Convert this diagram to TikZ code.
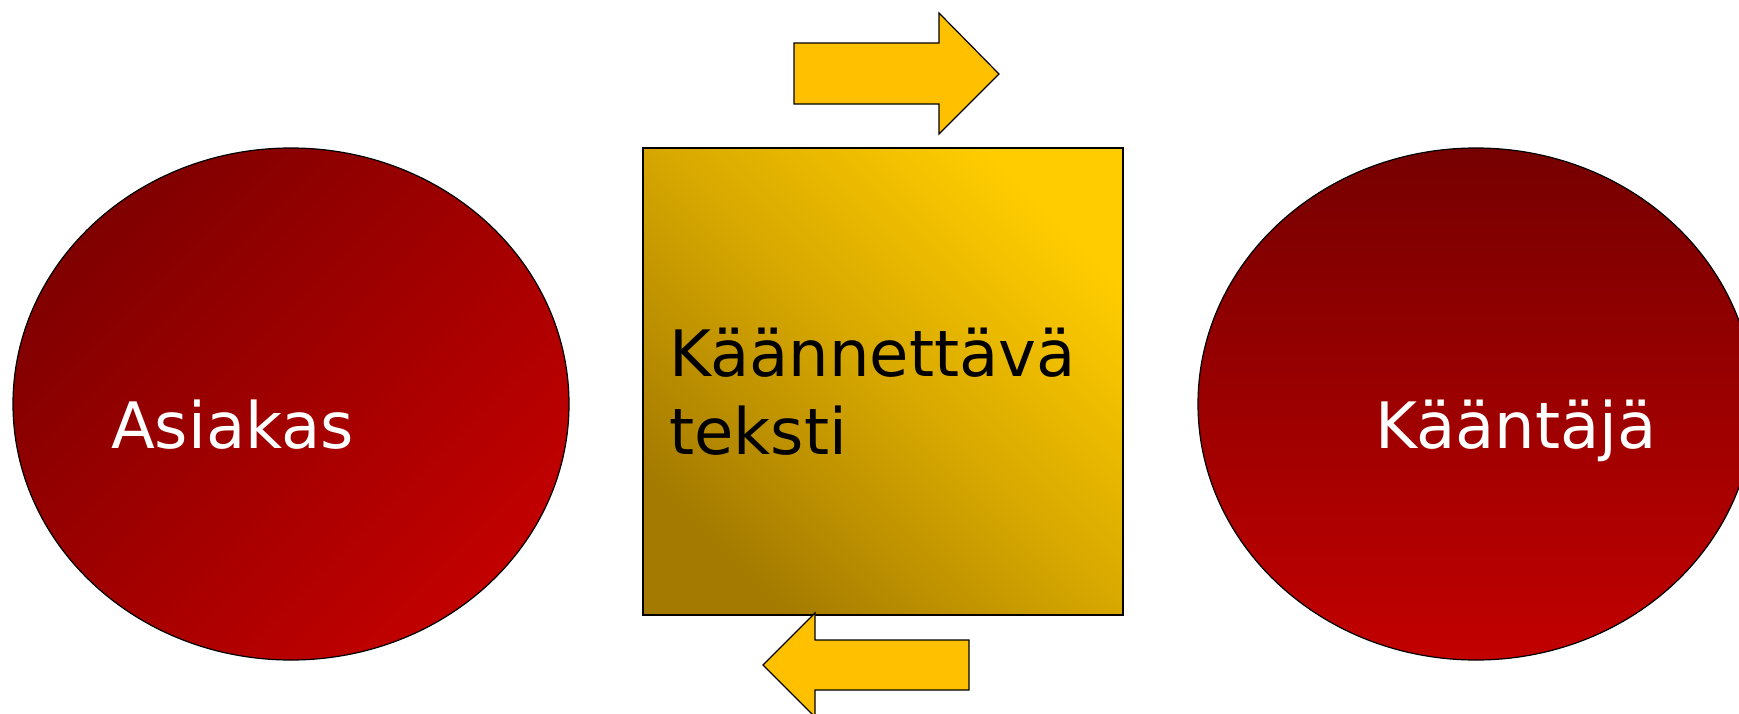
\documentclass[tikz,border=0pt]{standalone}
\usepackage{fontspec}
\setmainfont{DejaVu Sans}
\usetikzlibrary{shapes.geometric}
\definecolor{redA}{RGB}{128,0,0}
\definecolor{redB}{RGB}{194,0,0}
\definecolor{redC}{RGB}{118,0,0}
\definecolor{goldA}{RGB}{255,204,0}
\definecolor{goldB}{RGB}{164,122,0}
\definecolor{arrowfill}{RGB}{255,192,0}
\tikzset{
  blob/.style={draw=black, line width=1.2pt, ellipse, inner sep=0pt,
    minimum width=556pt, minimum height=512pt},
  bigtext/.style={font=\fontsize{64}{78}\selectfont, inner sep=0pt},
  fatarrow/.style={draw=black, line width=1.2pt, fill=arrowfill, line join=miter}
}
\begin{document}
\begin{tikzpicture}[x=1pt,y=1pt]
\useasboundingbox (0,0) rectangle (1739,-713);
\clip (0,0) rectangle (1739,-713);
% ellipses
\node[blob, shade, top color=redA, bottom color=redB, shading angle=45] (asiakas) at (291,-404) {};
\node[blob, shade, top color=redC, bottom color=redB] (kaantaja) at (1476,-404) {};
% rectangle
\node[draw=black, line width=1.6pt, inner sep=0pt, minimum width=480pt, minimum height=467pt,
  shade, top color=goldA, bottom color=goldB, middle color=goldA!55!goldB, shading angle=-45] (teksti) at (883,-381.5) {};
% texts
\node[bigtext, text=white, anchor=base west] (tA) at (111,-448) {Asiakas};
\node[bigtext, text=white, anchor=base west] (tK) at (1375,-448) {Kääntäjä};
\node[bigtext, text=black, anchor=base west, align=left] (tT) at (669,-454) {Käännettävä\\teksti};
% arrows
\draw[fatarrow] (794,-43) -- (939,-43) -- (939,-13) -- (999,-74) -- (939,-134) -- (939,-104) -- (794,-104) -- cycle;
\draw[fatarrow] (969,-640) -- (815,-640) -- (815,-613) -- (763,-665) -- (815,-717) -- (815,-690) -- (969,-690) -- cycle;
\end{tikzpicture}
\end{document}
